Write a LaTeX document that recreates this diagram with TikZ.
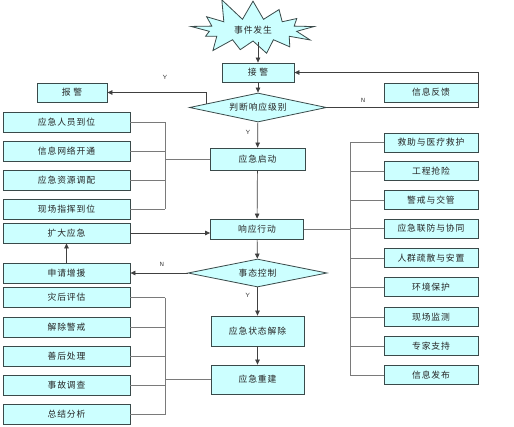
\documentclass[tikz,border=0pt]{standalone}
\usepackage{fontspec}
\setmainfont{Liberation Sans}
\newfontfamily\cjk[LetterSpace=10]{Noto Sans CJK SC}
\usetikzlibrary{shapes.geometric,shapes.symbols,arrows.meta}
\definecolor{boxfill}{HTML}{CCFFFF}
\definecolor{boxline}{HTML}{3A4A4A}
\definecolor{conn}{HTML}{7A7A7A}
\tikzset{
  x=1pt, y=-1pt,
  every node/.style={font=\cjk\fontsize{8.8}{10}\selectfont, text=black!85},
  box/.style={draw=boxline, line width=0.8pt, fill=boxfill, inner sep=0pt, minimum width=#1},
  box/.default=94pt,
  dia/.style={draw=boxline, line width=0.8pt, fill=boxfill, diamond, aspect=6, inner sep=0pt},
  arr/.style={draw=black!75, line width=0.7pt, -{Triangle[length=5pt,width=4.5pt]}},
  conn/.style={draw=conn, line width=0.9pt},
  lab/.style={font=\sffamily\fontsize{6}{7}\selectfont, text=black!80}
}
\begin{document}
\begin{tikzpicture}
\useasboundingbox[fill=white] (0,0) rectangle (514,426);
% central column
\node[starburst, starburst points=13, starburst point height=24pt, random starburst=11,
      draw=boxline, line width=0.8pt, fill=boxfill, minimum width=136pt, minimum height=70pt, inner sep=0pt]
      (start) at (253,30) {事件发生};
\node[box=72pt, minimum height=19pt] (jiejing) at (258,72.5) {接\ 警};
\node[dia, minimum width=137pt, minimum height=29pt] (pd) at (258,107.5) {判断响应级别};
\node[box=72pt, minimum height=19pt, minimum width=70pt] (baojing) at (72,92.5) {报\ 警};
\node[box, minimum height=19pt] (fankui) at (431,92.5) {信息反馈};
\node[box=95pt, minimum height=22pt] (qidong) at (257.5,159) {应急启动};
\node[box=93pt, minimum height=20pt] (xiangying) at (257,229) {响应行动};
\node[dia, minimum width=139pt, minimum height=28pt] (shitai) at (257.5,273) {事态控制};
\node[box=93pt, minimum height=30pt] (jiechu) at (257.5,331) {应急状态解除};
\node[box=93pt, minimum height=29pt] (chongjian) at (257.5,379.5) {应急重建};
% left group 1
\node[box=127pt, minimum height=20pt] (l1) at (66.5,122) {应急人员到位};
\node[box=127pt, minimum height=20pt] (l2) at (66.5,151) {信息网络开通};
\node[box=127pt, minimum height=20pt] (l3) at (66.5,180) {应急资源调配};
\node[box=127pt, minimum height=20pt] (l4) at (66.5,209) {现场指挥到位};
\node[box=127pt, minimum height=20pt] (kuoda) at (66.5,233) {扩大应急};
\node[box=127pt, minimum height=20pt] (shenqing) at (66.5,273) {申请增援};
% left group 2
\node[box=127pt, minimum height=20pt] (m1) at (66.5,297.5) {灾后评估};
\node[box=127pt, minimum height=20pt] (m2) at (66.5,327) {解除警戒};
\node[box=127pt, minimum height=20pt] (m3) at (66.5,356) {善后处理};
\node[box=127pt, minimum height=20pt] (m4) at (66.5,385) {事故调查};
\node[box=127pt, minimum height=20pt] (m5) at (66.5,414.5) {总结分析};
% right group
\node[box, minimum height=19pt] (r1) at (431,142.5) {救助与医疗救护};
\node[box, minimum height=19pt] (r2) at (431,171) {工程抢险};
\node[box, minimum height=19pt] (r3) at (431,200) {警戒与交管};
\node[box, minimum height=19pt] (r4) at (431,228.5) {应急联防与协同};
\node[box, minimum height=19pt] (r5) at (431,258) {人群疏散与安置};
\node[box, minimum height=19pt] (r6) at (431,287) {环境保护};
\node[box, minimum height=19pt] (r7) at (431,317) {现场监测};
\node[box, minimum height=19pt] (r8) at (431,346) {专家支持};
\node[box, minimum height=19pt] (r9) at (431,375) {信息发布};
% bracket columns
\coordinate (bk1) at (165,0);
\coordinate (bk3) at (350,0);
% main arrows
\draw[arr] (start.south -| jiejing) -- (jiejing);
\draw[arr] (jiejing) -- (pd);
\draw[arr] (pd) -- node[lab, pos=0.4, left=4pt] {Y} (qidong);
\draw[arr] (pd.176) |- (baojing.east);
\draw[arr] (pd.east) -| (fankui.east) |- (jiejing.east);
\draw[arr] (qidong) -- (xiangying);
\draw[arr] (xiangying) -- (shitai);
\draw[arr] (shitai) -- node[lab, pos=0.3, left=4pt] {Y} (jiechu);
\draw[arr] (jiechu) -- (chongjian);
\draw[arr] (kuoda.east) -- (kuoda.east -| xiangying.west);
\draw[arr] (shenqing) -- (kuoda);
\draw[arr] (shitai.west) -- node[lab, above=3pt, pos=0.45] {N} (shenqing.east);
\node[lab] (ylab) at (165,77) {Y};
\node[lab] (nlab) at (363,100) {N};
% left bracket 1
\foreach \b in {l1,l2,l3,l4} \draw[conn] (\b.east) -- (\b.east -| bk1);
\draw[conn] (l1.east -| bk1) -- (l4.east -| bk1);
\draw[conn] (qidong.west) -- (qidong.west -| bk1);
% left bracket 2
\foreach \b in {m1,m2,m3,m4,m5} \draw[conn] (\b.east) -- (\b.east -| bk1);
\draw[conn] (m1.east -| bk1) -- (m5.east -| bk1);
\draw[conn] (chongjian.west) -- (chongjian.west -| bk1);
% right bracket
\foreach \b in {r1,r2,r3,r4,r5,r6,r7,r8,r9} \draw[conn] (\b.west) -- (\b.west -| bk3);
\draw[conn] (r1.west -| bk3) -- (r9.west -| bk3);
\draw[conn] (xiangying.east) -- (xiangying.east -| bk3);
\end{tikzpicture}
\end{document}
